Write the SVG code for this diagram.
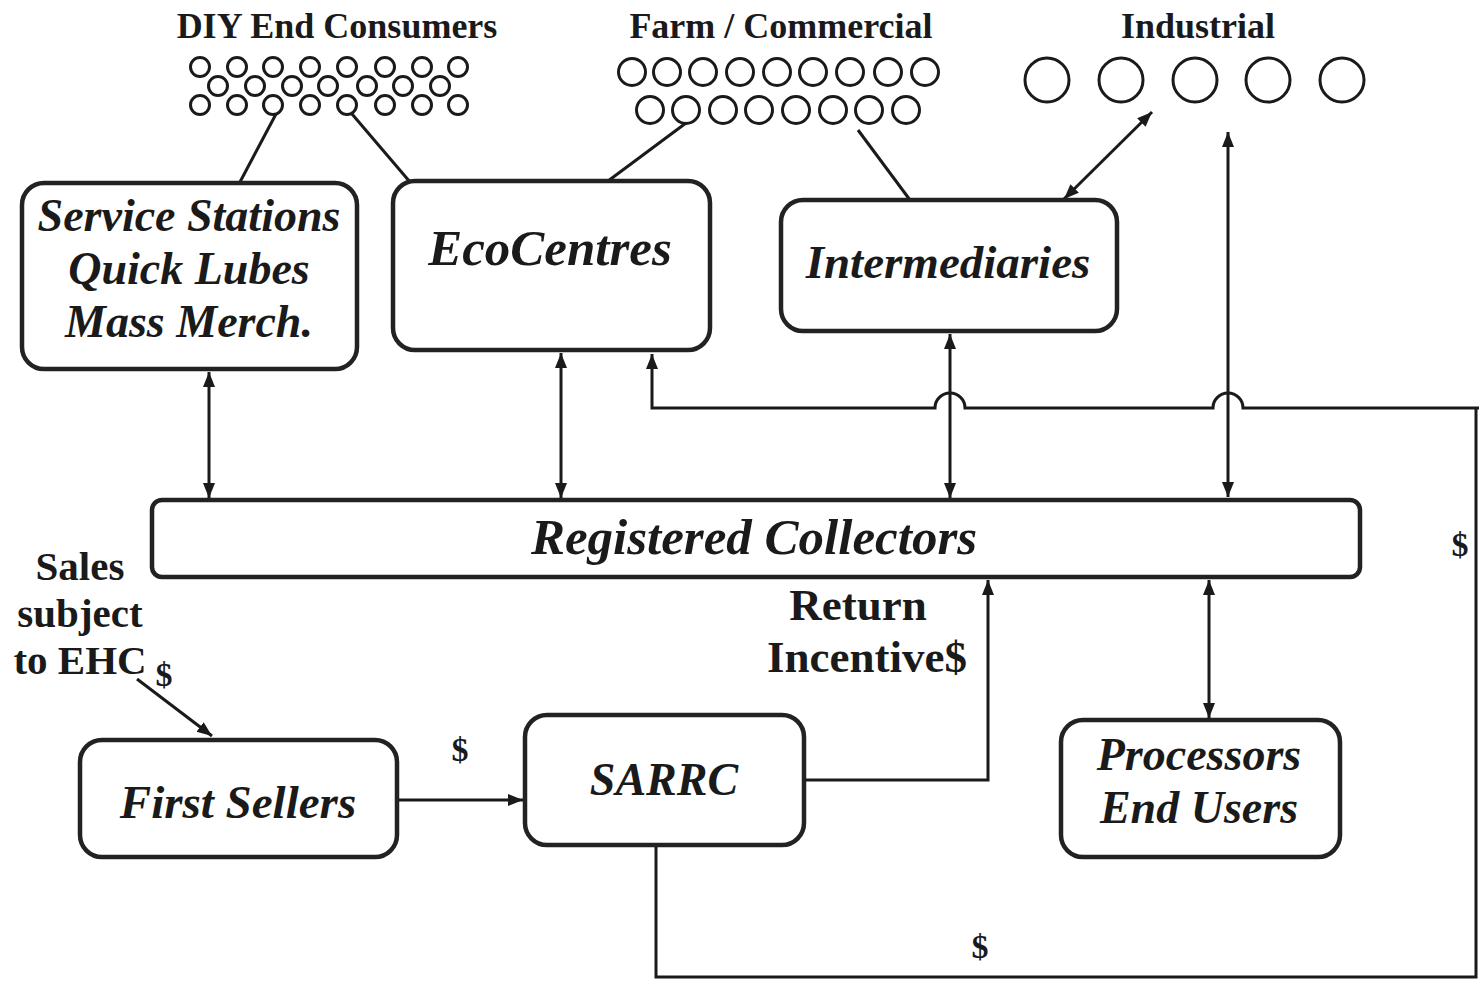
<svg xmlns="http://www.w3.org/2000/svg" width="1479" height="982" viewBox="0 0 1479 982">
<style>
.box{fill:#fff;stroke:#222;stroke-width:4.5}
.bt{font-family:"Liberation Serif",serif;font-weight:bold;font-style:italic;fill:#1a1a1a;text-anchor:middle}
.lb{font-family:"Liberation Serif",serif;font-weight:bold;fill:#1a1a1a;text-anchor:middle}
.c{fill:none;stroke:#1a1a1a;stroke-width:3}
.ln{fill:none;stroke:#1a1a1a;stroke-width:3}
</style>
<defs>
<marker id="ah" viewBox="0 0 10 10" refX="10" refY="5" markerWidth="5" markerHeight="5" orient="auto-start-reverse" markerUnits="strokeWidth">
<path d="M0,1 L10,5 L0,9 Z" fill="#1a1a1a"/>
</marker>
</defs>
<rect width="1479" height="982" fill="#fff"/>

<g id="top-labels">
<text class="lb" x="337" y="38" font-size="36">DIY End Consumers</text>
<text class="lb" x="781" y="38" font-size="36">Farm / Commercial</text>
<text class="lb" x="1198" y="38" font-size="36">Industrial</text>
</g>

<g id="diy-consumers">
<circle class="c" cx="200" cy="67" r="9.5"/><circle class="c" cx="237" cy="67" r="9.5"/><circle class="c" cx="273" cy="67" r="9.5"/><circle class="c" cx="310" cy="67" r="9.5"/><circle class="c" cx="347" cy="67" r="9.5"/><circle class="c" cx="385" cy="67" r="9.5"/><circle class="c" cx="422" cy="67" r="9.5"/><circle class="c" cx="458" cy="67" r="9.5"/>
<circle class="c" cx="218" cy="86" r="9.5"/><circle class="c" cx="255" cy="86" r="9.5"/><circle class="c" cx="292" cy="86" r="9.5"/><circle class="c" cx="328" cy="86" r="9.5"/><circle class="c" cx="367" cy="86" r="9.5"/><circle class="c" cx="403" cy="86" r="9.5"/><circle class="c" cx="440" cy="86" r="9.5"/>
<circle class="c" cx="200" cy="105" r="9.5"/><circle class="c" cx="237" cy="105" r="9.5"/><circle class="c" cx="273" cy="105" r="9.5"/><circle class="c" cx="310" cy="105" r="9.5"/><circle class="c" cx="347" cy="105" r="9.5"/><circle class="c" cx="385" cy="105" r="9.5"/><circle class="c" cx="422" cy="105" r="9.5"/><circle class="c" cx="458" cy="105" r="9.5"/>
</g>

<g id="farm-commercial">
<circle class="c" cx="632" cy="72" r="13.5"/><circle class="c" cx="667" cy="72" r="13.5"/><circle class="c" cx="703" cy="72" r="13.5"/><circle class="c" cx="740" cy="72" r="13.5"/><circle class="c" cx="777" cy="72" r="13.5"/><circle class="c" cx="813" cy="72" r="13.5"/><circle class="c" cx="850" cy="72" r="13.5"/><circle class="c" cx="888" cy="72" r="13.5"/><circle class="c" cx="925" cy="72" r="13.5"/>
<circle class="c" cx="650" cy="110" r="13.5"/><circle class="c" cx="686" cy="110" r="13.5"/><circle class="c" cx="723" cy="110" r="13.5"/><circle class="c" cx="759" cy="110" r="13.5"/><circle class="c" cx="796" cy="110" r="13.5"/><circle class="c" cx="833" cy="110" r="13.5"/><circle class="c" cx="869" cy="110" r="13.5"/><circle class="c" cx="906" cy="110" r="13.5"/>
</g>

<g id="industrial">
<circle class="c" cx="1047" cy="80" r="22"/><circle class="c" cx="1121" cy="80" r="22"/><circle class="c" cx="1195" cy="80" r="22"/><circle class="c" cx="1268" cy="80" r="22"/><circle class="c" cx="1342" cy="80" r="22"/>
</g>

<g id="connectors">
<line class="ln" x1="276" y1="114" x2="240" y2="182"/>
<line class="ln" x1="352" y1="114" x2="410" y2="182"/>
<line class="ln" x1="686" y1="123" x2="608" y2="181"/>
<line class="ln" x1="858" y1="130" x2="910" y2="200"/>
<line class="ln" x1="1064" y1="199" x2="1152" y2="112" marker-start="url(#ah)" marker-end="url(#ah)"/>
<line class="ln" x1="1228" y1="497" x2="1228" y2="132" marker-start="url(#ah)" marker-end="url(#ah)"/>
<line class="ln" x1="209" y1="372" x2="209" y2="498" marker-start="url(#ah)" marker-end="url(#ah)"/>
<line class="ln" x1="561" y1="353" x2="561" y2="498" marker-start="url(#ah)" marker-end="url(#ah)"/>
<line class="ln" x1="950" y1="334" x2="950" y2="498" marker-start="url(#ah)" marker-end="url(#ah)"/>
<path class="ln" d="M1479,408 H1243 A15,15 0 0 0 1213,408 H965 A15,15 0 0 0 935,408 H652 V354" marker-end="url(#ah)"/>
<path class="ln" d="M1476,408 V977 H656 V847"/>
<path class="ln" d="M806,780 H988 V580" marker-end="url(#ah)"/>
<line class="ln" x1="1209" y1="580" x2="1209" y2="718" marker-start="url(#ah)" marker-end="url(#ah)"/>
<line class="ln" x1="399" y1="800" x2="523" y2="800" marker-end="url(#ah)"/>
<line class="ln" x1="137" y1="679" x2="212" y2="736" marker-end="url(#ah)"/>
</g>

<g id="service-stations">
<rect class="box" x="22" y="183" width="335" height="186" rx="22"/>
<text class="bt" x="189" y="231" font-size="46">Service Stations</text>
<text class="bt" x="189" y="284" font-size="46">Quick Lubes</text>
<text class="bt" x="189" y="337" font-size="46">Mass Merch.</text>
</g>
<g id="ecocentres">
<rect class="box" x="393" y="181" width="317" height="169" rx="22"/>
<text class="bt" x="550" y="265" font-size="51">EcoCentres</text>
</g>
<g id="intermediaries">
<rect class="box" x="781" y="200" width="336" height="131" rx="22"/>
<text class="bt" x="948" y="278" font-size="47">Intermediaries</text>
</g>
<g id="registered-collectors">
<rect class="box" x="152" y="500" width="1208" height="77" rx="10"/>
<text class="bt" x="754" y="554" font-size="51">Registered Collectors</text>
</g>
<g id="first-sellers">
<rect class="box" x="80" y="740" width="317" height="117" rx="22"/>
<text class="bt" x="238" y="818" font-size="47">First Sellers</text>
</g>
<g id="sarrc">
<rect class="box" x="525" y="715" width="279" height="130" rx="22"/>
<text class="bt" x="664" y="795" font-size="46">SARRC</text>
</g>
<g id="processors">
<rect class="box" x="1061" y="720" width="279" height="137" rx="22"/>
<text class="bt" x="1199" y="770" font-size="46">Processors</text>
<text class="bt" x="1199" y="823" font-size="46">End Users</text>
</g>

<g id="labels">
<text class="lb" x="80" y="580" font-size="41">Sales</text>
<text class="lb" x="80" y="627" font-size="41">subject</text>
<text class="lb" x="80" y="674" font-size="41">to EHC</text>
<text class="lb" x="164" y="686" font-size="34">$</text>
<text class="lb" x="858" y="620" font-size="45">Return</text>
<text class="lb" x="867" y="672" font-size="45">Incentive$</text>
<text class="lb" x="460" y="761" font-size="34">$</text>
<text class="lb" x="980" y="958" font-size="34">$</text>
<text class="lb" x="1460" y="556" font-size="34">$</text>
</g>
</svg>
